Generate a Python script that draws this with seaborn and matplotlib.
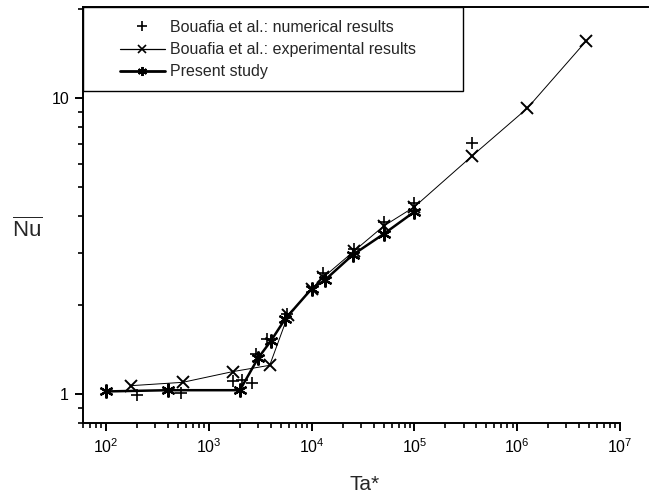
import matplotlib
matplotlib.use("Agg")
import matplotlib.pyplot as plt
import seaborn as sns
from matplotlib import ticker
from matplotlib.lines import Line2D
from matplotlib.patches import Rectangle

# Bouafia et al. numerical results
ta_numerical = [200, 530, 1700, 2100, 2650, 2900, 3650, 5800, 1.3e4, 2.55e4, 5.0e4, 1.0e5, 3.65e5]
nu_numerical = [0.99, 1.01, 1.11, 1.115, 1.087, 1.37, 1.53, 1.86, 2.56, 3.10, 3.82, 4.41, 7.06]

# Bouafia et al. experimental results
ta_experimental = [175, 555, 1700, 3900, 5900, 1.0e4, 1.3e4, 2.55e4, 5.0e4, 1.0e5, 3.65e5, 1.25e6, 4.7e6]
nu_experimental = [1.067, 1.095, 1.19, 1.25, 1.85, 2.26, 2.48, 3.03, 3.69, 4.29, 6.38, 9.23, 15.6]

# Present study
ta_present = [100, 400, 2000, 3000, 4000, 5500, 1.0e4, 1.35e4, 2.5e4, 5.0e4, 1.0e5]
nu_present = [1.02, 1.03, 1.03, 1.32, 1.51, 1.79, 2.27, 2.43, 2.95, 3.47, 4.13]

legend_labels = ["Bouafia et al.: numerical results",
                 "Bouafia et al.: experimental results",
                 "Present study"]

sns.set_theme(style="ticks")
plt.rcParams["font.family"] = ["Liberation Sans", "DejaVu Sans"]
plt.rcParams["mathtext.fontset"] = "custom"
plt.rcParams["mathtext.rm"] = "Liberation Sans"
plt.rcParams["mathtext.it"] = "Liberation Sans:italic"
plt.rcParams["mathtext.bf"] = "Liberation Sans:bold"

W, H = 650, 495
fig = plt.figure(figsize=(W / 100, H / 100), dpi=100)
fig.patch.set_facecolor("white")
ax_l, ax_r, ax_t, ax_b = 83, 648, 7, 423
ax = fig.add_axes([ax_l / W, 1 - ax_b / H, (ax_r - ax_l) / W, (ax_b - ax_t) / H])
ax.set_facecolor("white")

asterisk = (6, 2, 0)

sns.lineplot(x=ta_experimental, y=nu_experimental, sort=False, estimator=None,
             color="black", linewidth=0.7, marker="x", markersize=9,
             markeredgewidth=1.4, markeredgecolor="black", ax=ax, zorder=3)
sns.scatterplot(x=ta_numerical, y=nu_numerical, marker="+", s=80,
                color="black", linewidth=1.2, ax=ax, zorder=3)
sns.lineplot(x=ta_present, y=nu_present, sort=False, estimator=None,
             color="black", linewidth=1.8, marker=asterisk, markersize=10,
             markeredgewidth=1.6, markeredgecolor="black", ax=ax, zorder=4)

ax.set_xscale("log")
ax.set_yscale("log")
ax.set_xlim(59.5, 10 ** 7.272)
ax.set_ylim(0.798, 20.3)

ax.xaxis.set_major_locator(ticker.LogLocator(base=10, numticks=20))
ax.xaxis.set_major_formatter(ticker.LogFormatterSciNotation())
minor_x = [m * 10 ** e for e in range(1, 7) for m in range(2, 10)]
ax.xaxis.set_minor_locator(ticker.FixedLocator(minor_x))
ax.xaxis.set_minor_formatter(ticker.NullFormatter())

ax.yaxis.set_major_locator(ticker.FixedLocator([1, 10]))
ax.yaxis.set_major_formatter(ticker.FixedFormatter(["1", "10"]))
minor_y = [0.8, 0.9] + [float(m) for m in range(2, 10)] + [20]
ax.yaxis.set_minor_locator(ticker.FixedLocator(minor_y))
ax.yaxis.set_minor_formatter(ticker.NullFormatter())

for side in ["left", "bottom", "top"]:
    ax.spines[side].set_linewidth(1.4)
    ax.spines[side].set_color("black")
ax.spines["right"].set_visible(False)
ax.spines["bottom"].set_bounds(59.5, 1.0e7)

ax.tick_params(which="major", direction="out", length=6, width=1.4,
               labelsize=11.5, colors="black", pad=4)
ax.tick_params(which="minor", direction="out", length=3.5, width=1.2, colors="black")
ax.tick_params(axis="x", which="both", top=False)
ax.tick_params(axis="y", which="both", right=False)

ax.set_xlabel("")
ax.set_ylabel("")
fig.text(365 / W, 1 - 484 / H, "Ta*", fontsize=15, ha="center", va="center")
fig.text(27 / W, 1 - 230 / H, r"$\overline{\mathrm{Nu}}$", fontsize=16,
         ha="center", va="center")

# legend box anchored to the top-left corner of the axes
box_w = (463 - ax_l) / (ax_r - ax_l)
box_b = (ax_b - 91) / (ax_b - ax_t)
ax.add_patch(Rectangle((0, box_b), box_w, 1 - box_b, transform=ax.transAxes,
                       facecolor="white", edgecolor="black", linewidth=1.0,
                       zorder=5, clip_on=False))
handles = [
    Line2D([], [], linestyle="none", marker="+", markersize=7, markeredgewidth=1.2,
           color="black"),
    Line2D([], [], linestyle="-", linewidth=0.9, marker="x", markersize=5.5,
           markeredgewidth=1.2, color="black"),
    Line2D([], [], linestyle="-", linewidth=2.0, marker=asterisk, markersize=6.5,
           markeredgewidth=1.4, color="black"),
]
leg = ax.legend(handles, legend_labels, loc="upper left",
                bbox_to_anchor=((120 - ax_l) / (ax_r - ax_l), 1 - 13 / (ax_b - ax_t)),
                frameon=False, borderpad=0, borderaxespad=0, fontsize=11.5,
                handlelength=2.8, handletextpad=0.3, labelspacing=0.45)
leg.set_zorder(6)

fig.savefig("out.png", dpi=100, facecolor="white")
